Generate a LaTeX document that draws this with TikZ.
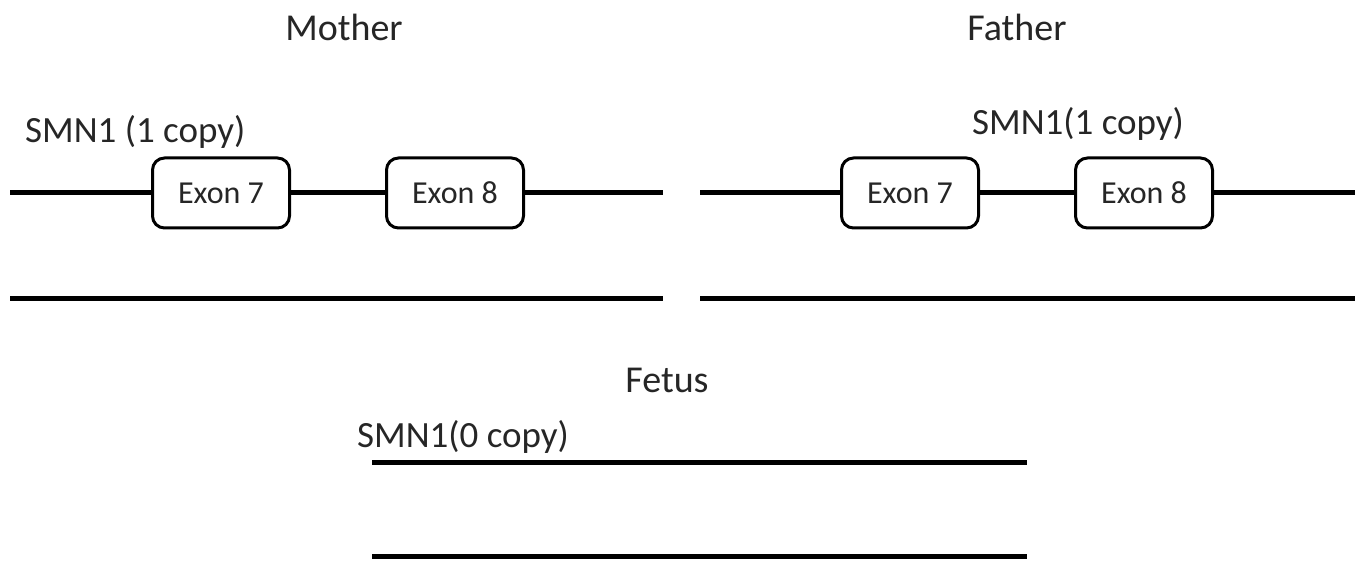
\documentclass[tikz,border=0pt]{standalone}
\usepackage{fontspec}
\setmainfont{Carlito}
\begin{document}
\begin{tikzpicture}[x=1pt,y=-1pt,
  chrom/.style={line width=5pt},
  exon/.style={draw,line width=3pt,rounded corners=12pt,fill=white,minimum width=137pt,minimum height=70pt,inner sep=0pt,font=\fontsize{32}{36}\selectfont,text=black!85},
  title/.style={font=\fontsize{38}{42}\selectfont,text=black!85,inner sep=0pt},
  lbl/.style={font=\fontsize{37}{40}\selectfont,text=black!85,inner sep=0pt}]
\useasboundingbox (0,0) rectangle (1364,561);
% Mother
\node[title] (mother) at (344,27) {Mother};
\node[lbl,anchor=west] (msmn) at (25,132) {SMN1 (1 copy)};
\coordinate (m1a) at (10,193);
\coordinate (m1b) at (663,193);
\coordinate (m2a) at (10,298);
\coordinate (m2b) at (663,298);
\draw[chrom] (m1a) -- (m1b);
\draw[chrom] (m2a) -- (m2b);
\node[exon] (me7) at (221,193) {Exon 7};
\node[exon] (me8) at (455,193) {Exon 8};
% Father
\node[title] (father) at (1017,27) {Father};
\node[lbl,anchor=west] (fsmn) at (972,124) {SMN1(1 copy)};
\coordinate (f1a) at (700,193);
\coordinate (f1b) at (1355,193);
\coordinate (f2a) at (700,298);
\coordinate (f2b) at (1355,298);
\draw[chrom] (f1a) -- (f1b);
\draw[chrom] (f2a) -- (f2b);
\node[exon] (fe7) at (910,193) {Exon 7};
\node[exon] (fe8) at (1144,193) {Exon 8};
% Fetus
\node[title] (fetus) at (667,380) {Fetus};
\node[lbl,anchor=west] (csmn) at (357,437) {SMN1(0 copy)};
\coordinate (c1a) at (372,462);
\coordinate (c1b) at (1027,462);
\coordinate (c2a) at (372,556);
\coordinate (c2b) at (1027,556);
\draw[chrom] (c1a) -- (c1b);
\draw[chrom] (c2a) -- (c2b);
\end{tikzpicture}
\end{document}
